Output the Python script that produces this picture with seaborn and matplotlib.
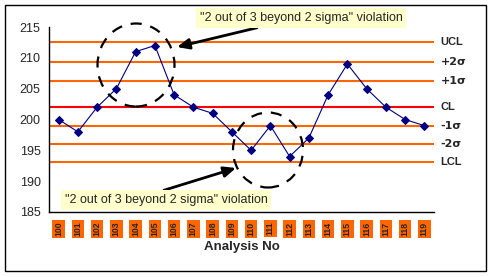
import matplotlib
matplotlib.use("Agg")
import matplotlib.pyplot as plt
import seaborn as sns
import pandas as pd
from matplotlib.patches import Ellipse, Rectangle

# ---- data ----
analysis_no = [str(n) for n in range(100, 120)]
values = [200, 198, 202, 205, 211, 212, 204, 202, 201, 198,
          195, 199, 194, 197, 204, 209, 205, 202, 200, 199]
limit_names = ["UCL", "+2σ", "+1σ", "CL", "-1σ", "-2σ", "LCL"]
limit_values = [212.6, 209.3, 206.2, 202.1, 199.0, 196.0, 193.1]
limit_colors = ["#FF6600", "#FF6600", "#FF6600", "#FF0000", "#FF6600", "#FF6600", "#FF6600"]
y_ticks = [185, 190, 195, 200, 205, 210, 215]
note_text = '"2 out of 3 beyond 2 sigma" violation'

sns.set_style("white")
plt.rcParams['font.family'] = ['Liberation Sans', 'DejaVu Sans']

W, H = 493, 277
fig = plt.figure(figsize=(W / 100, H / 100), dpi=100)
fig.patch.set_facecolor("white")
ax = fig.add_axes([49 / W, 1 - 212 / H, (434 - 49) / W, (212 - 27) / H])

df = pd.DataFrame({"pos": range(len(analysis_no)), "value": values})

for name, val, col in zip(limit_names, limit_values, limit_colors):
    ax.axhline(val, color=col, lw=1.5, zorder=1)
    ax.text(1.017, val, name, transform=ax.get_yaxis_transform(), ha="left",
            va="center", fontsize=8, fontweight="bold",
            family=["DejaVu Sans"] if "σ" in name else ["Liberation Sans"])

sns.lineplot(data=df, x="pos", y="value", ax=ax, color="#000080", lw=0.8,
             marker="D", markersize=4, markeredgecolor="#000080", zorder=3)

ax.set_xlim(-0.5, len(analysis_no) - 0.5)
ax.set_ylim(185, 215)
ax.set_yticks(y_ticks)
ax.set_yticklabels([str(t) for t in y_ticks], fontsize=9)
ax.set_xticks([i - 0.5 for i in range(len(analysis_no) + 1)], minor=False)
ax.set_xticklabels([])
ax.set_xticks(range(len(analysis_no)), minor=True)
ax.set_xticklabels(analysis_no, minor=True, rotation=90, fontsize=6.3,
                   fontweight="bold",
                   bbox=dict(boxstyle="square,pad=0.2", fc="#FF6600", ec="none"))
ax.tick_params(axis="x", which="minor", length=0, pad=7)
ax.tick_params(axis="x", which="major", length=4, width=1, direction="out", color="black")
ax.tick_params(axis="y", length=4, width=1, direction="out", color="black", pad=2)
ax.set_xlabel("Analysis No", fontsize=9.5, fontweight="bold", labelpad=3)
ax.set_ylabel("")
for s in ["top", "right"]:
    ax.spines[s].set_visible(False)
for s in ["left", "bottom"]:
    ax.spines[s].set_color("black")
    ax.spines[s].set_linewidth(1)

def fx(x):
    return x / W

def fy(y):
    return 1 - y / H

# notes and arrows
ax.annotate(note_text, xy=(fx(177), fy(47)), xycoords="figure fraction",
            xytext=(fx(301), fy(18)), textcoords="figure fraction",
            ha="center", va="center", fontsize=9,
            bbox=dict(boxstyle="square,pad=0.3", fc="#FFFFCC", ec="none"),
            arrowprops=dict(arrowstyle="-|>,head_length=0.8,head_width=0.35",
                            color="black", lw=2, shrinkA=0, shrinkB=0,
                            relpos=(0.36, 0.0)))
ax.annotate(note_text, xy=(fx(236), fy(168)), xycoords="figure fraction",
            xytext=(fx(166), fy(200)), textcoords="figure fraction",
            ha="center", va="center", fontsize=9,
            bbox=dict(boxstyle="square,pad=0.3", fc="#FFFFCC", ec="none"),
            arrowprops=dict(arrowstyle="-|>,head_length=0.8,head_width=0.35",
                            color="black", lw=2, shrinkA=0, shrinkB=0,
                            relpos=(0.43, 1.0)))

for cx, cy, w, h in [(136, 65, 77, 83), (268, 150, 70, 75)]:
    fig.patches.append(Ellipse((fx(cx), fy(cy)), w / W, h / H,
                               transform=fig.transFigure, fill=False,
                               ec="black", lw=1.6, ls=(0, (5, 4))))

fig.patches.append(Rectangle((fx(5), fy(271)), (486 - 5) / W, (271 - 5) / H,
                             transform=fig.transFigure, fill=False,
                             ec="black", lw=1))

fig.savefig("out.png", dpi=100)
